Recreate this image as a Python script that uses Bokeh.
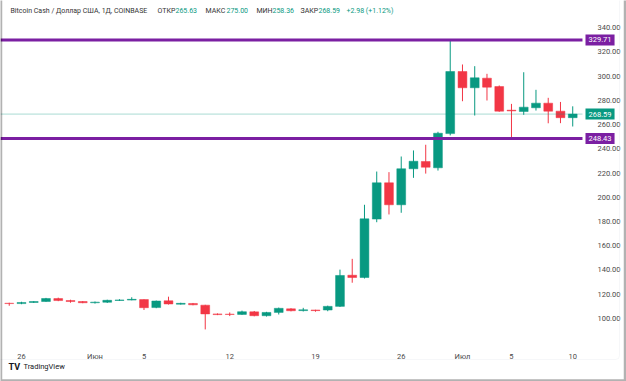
import pandas as pd
from bokeh.plotting import figure
from bokeh.models import Label, FixedTicker, NumeralTickFormatter, ColumnDataSource, BoxAnnotation
from bokeh.embed import file_html
from bokeh.resources import INLINE

# ---------------- data ----------------
dates = pd.date_range("2023-05-25", "2023-07-10", freq="D").strftime("%Y-%m-%d").tolist()
opens = [112.6, 112.3, 113.2, 114.0, 116.4, 114.8, 114.0, 113.0, 113.4, 114.9,
         115.2, 115.6, 109.0, 114.6, 111.8, 112.4, 111.0, 103.8, 103.6, 103.4,
         105.5, 102.3, 105.0, 108.0, 106.5, 107.0, 107.0, 110.0, 135.7, 133.8,
         182.0, 211.9, 193.8, 223.5, 229.5, 224.3, 252.5, 303.7, 290.3, 298.2,
         291.3, 271.8, 270.7, 273.8, 277.6, 271.0, 265.63]
highs = [113.0, 113.8, 114.3, 117.0, 117.2, 115.5, 114.4, 114.0, 115.5, 115.9,
         117.5, 115.8, 114.8, 118.0, 113.0, 112.8, 111.3, 104.2, 105.0, 106.5,
         106.2, 105.5, 109.0, 108.5, 108.8, 107.2, 110.6, 140.3, 149.2, 193.8,
         221.2, 220.7, 233.6, 238.6, 243.3, 254.0, 329.71, 309.5, 308.1, 301.8,
         292.2, 277.0, 303.1, 288.6, 282.0, 278.6, 275.00]
lows = [110.5, 111.8, 112.8, 113.8, 114.3, 113.0, 112.6, 112.3, 112.8, 114.5,
        115.0, 107.0, 108.5, 111.5, 111.5, 110.9, 91.0, 102.8, 102.0, 103.0,
        101.8, 101.6, 103.3, 105.9, 105.8, 105.6, 106.0, 109.5, 129.5, 133.0,
        179.4, 185.8, 187.2, 216.0, 219.5, 222.0, 251.0, 279.2, 267.4, 279.8,
        270.5, 248.43, 268.0, 271.5, 261.0, 261.1, 258.36]
closes = [112.3, 113.2, 114.0, 116.5, 114.8, 114.0, 113.0, 113.5, 115.0, 115.3,
          115.8, 108.9, 114.4, 112.0, 112.5, 111.3, 103.8, 103.2, 103.3, 105.6,
          102.3, 105.0, 108.4, 106.4, 107.2, 106.5, 110.0, 135.5, 133.8, 182.2,
          211.9, 193.8, 223.5, 229.7, 224.8, 252.8, 303.7, 290.3, 298.5, 290.8,
          271.0, 271.2, 274.3, 277.6, 271.0, 265.61, 268.59]

tick_dates = ["2023-05-26", "2023-06-01", "2023-06-05", "2023-06-12", "2023-06-19",
              "2023-06-26", "2023-07-01", "2023-07-05", "2023-07-10"]
tick_labels = ["26", "Июн", "5", "12", "19", "26", "Июл", "5", "10"]
price_ticks = [100, 120, 140, 160, 180, 200, 220, 240, 260, 280, 300, 320, 340]

level_high = 329.71
level_low = 248.43

symbol_text = "Bitcoin Cash / Доллар США, 1Д, COINBASE"

# ---------------- layout constants ----------------
GREEN = "#089981"
RED = "#F23645"
PURPLE = "#7B1FA2"
FONT = "Roboto"
W, H = 626, 381
# price pane: canvas x 8..582, y 20..340 ; 12.25 px per day, 1.2125 px per unit
X0, X1 = -0.714, 50.39          # whole canvas in day units
PANE_RIGHT = 46.796             # day-unit position of price-pane right edge
Y0, Y1 = 48.04, 362.27          # whole canvas in price units
PANE_BOTTOM = 81.86             # price-unit position of pane bottom

d0 = pd.Timestamp(dates[0])
xs = [(pd.Timestamp(s) - d0).days for s in dates]
colors = [GREEN if c >= o else RED for o, c in zip(opens, closes)]
src = ColumnDataSource(dict(
    x=xs, o=opens, h=highs, l=lows, c=closes, color=colors,
    top=[max(o, c) for o, c in zip(opens, closes)],
    bottom=[min(o, c) for o, c in zip(opens, closes)],
))

p = figure(width=W, height=H, x_range=(X0, X1), y_range=(Y0, Y1),
           y_axis_location="right", output_backend="svg", toolbar_location=None,
           min_border_left=0, min_border_right=0, min_border_top=0, min_border_bottom=0)
p.outline_line_color = None
p.background_fill_color = "white"
p.border_fill_color = "white"
p.grid.grid_line_color = None

tick_x = [(pd.Timestamp(s) - d0).days for s in tick_dates]
p.xaxis.ticker = FixedTicker(ticks=tick_x)
p.xaxis.major_label_overrides = {t: lab for t, lab in zip(tick_x, tick_labels)}
p.yaxis.ticker = FixedTicker(ticks=price_ticks)
p.yaxis.formatter = NumeralTickFormatter(format="0.00")
p.xaxis.fixed_location = PANE_BOTTOM
p.yaxis.fixed_location = PANE_RIGHT
for ax in (p.xaxis, p.yaxis):
    ax.axis_line_color = None
    ax.major_tick_line_color = None
    ax.minor_tick_line_color = None
    ax.major_label_text_font = FONT
    ax.major_label_text_font_size = "7.5px"
    ax.major_label_text_color = "#4a4a4a"
p.xaxis.major_label_standoff = 6
p.yaxis.major_label_standoff = 9

# panel frame (light) and outer screenshot border (black)
p.add_layout(BoxAnnotation(left=-10, right=619, bottom=22, top=H + 10,
                           left_units="screen", right_units="screen",
                           bottom_units="screen", top_units="screen",
                           fill_alpha=0, line_color="#e0e3eb", line_width=1,
                           border_radius=4))
p.add_layout(BoxAnnotation(left=0.5, right=W - 1.5, bottom=1, top=H + 10,
                           left_units="screen", right_units="screen",
                           bottom_units="screen", top_units="screen",
                           fill_alpha=0, line_color="black", line_width=2.5))

# candles
p.segment(x0="x", y0="h", x1="x", y1="l", color="color", line_width=1, source=src)
p.vbar(x="x", width=0.72, top="top", bottom="bottom", fill_color="color",
       line_color="color", line_width=0.5, source=src)

# horizontal levels (across the price pane)
last_close = closes[-1]
p.segment(x0=[X0], x1=[PANE_RIGHT], y0=[last_close], y1=[last_close],
          line_color=GREEN, line_alpha=0.35, line_width=1)
p.segment(x0=[X0, X0], x1=[PANE_RIGHT, PANE_RIGHT], y0=[level_high, level_low],
          y1=[level_high, level_low], line_color=PURPLE, line_width=3)

# price boxes on the axis
for val, col in ((level_high, PURPLE), (level_low, PURPLE), (last_close, GREEN)):
    p.add_layout(Label(x=585, x_units="screen", y=val, y_units="data",
                       text=f"{val:.2f}", text_color="white", text_font=FONT,
                       text_font_size="7.5px", text_baseline="middle",
                       background_fill_color=col, padding=3))

# header
prev_close = closes[-2]
chg = last_close - prev_close
pct = chg / prev_close * 100
header = [
    (10, symbol_text, "#333333"),
    (157, "ОТКР", "#333333"), (175, f"{opens[-1]:.2f}", GREEN),
    (205, "МАКС", "#333333"), (226, f"{highs[-1]:.2f}", GREEN),
    (256, "МИН", "#333333"), (272, f"{lows[-1]:.2f}", GREEN),
    (300, "ЗАКР", "#333333"), (318, f"{last_close:.2f}", GREEN),
    (346, f"{chg:+.2f} ({pct:+.2f}%)", GREEN),
]
for x, t, col in header:
    p.add_layout(Label(x=x, y=H - 10, x_units="screen", y_units="screen", text=t,
                       text_color=col, text_font=FONT, text_font_size="7px",
                       text_baseline="middle"))

# footer logo
p.add_layout(Label(x=8, y=H - 366, x_units="screen", y_units="screen", text="TV",
                   text_color="#131722", text_font=FONT, text_font_size="9px",
                   text_font_style="bold", text_baseline="middle"))
p.add_layout(Label(x=23, y=H - 366, x_units="screen", y_units="screen", text="TradingView",
                   text_color="#131722", text_font=FONT, text_font_size="7.5px",
                   text_baseline="middle"))

open("out.html", "w").write(file_html(p, INLINE))
